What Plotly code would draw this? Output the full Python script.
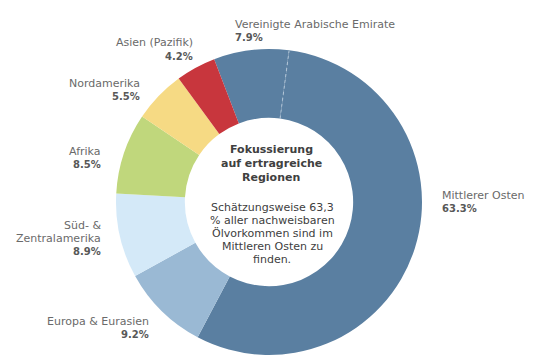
import math
import plotly.graph_objects as go

# ---- data ----
regions = ["Mittlerer Osten", "Europa & Eurasien", "Süd- &<br>Zentralamerika",
           "Afrika", "Nordamerika", "Asien (Pazifik)"]
shares = [63.3, 9.2, 8.9, 8.5, 5.5, 4.2]
sub_label = "Vereinigte Arabische Emirate"
sub_share = 7.9   # part of Mittlerer Osten
colors = ["#5a7fa1", "#9ab9d4", "#d4e9f8", "#c0d77c", "#f6da84", "#c8363d"]

center_title = ["Fokussierung", "auf ertragreiche", "Regionen"]
center_body = ["Schätzungsweise 63,3", "% aller nachweisbaren",
               "Ölvorkommen sind im", "Mittleren Osten zu", "finden."]

# ---- build slices ----
slice_labels = [sub_label, regions[0] + " (übrige)"] + regions[1:]
slice_values = [sub_share, shares[0] - sub_share] + shares[1:]
slice_colors = [colors[0], colors[0]] + colors[1:]

W, H = 534, 361
CX, CY, R = 261, 194, 153
HOLE = 0.55
ROT = -21

fig = go.Figure()
fig.add_trace(go.Pie(
    labels=slice_labels, values=slice_values, sort=False,
    direction="clockwise", rotation=ROT, hole=HOLE,
    textinfo="none", showlegend=False,
    marker=dict(colors=slice_colors, line=dict(color="#ffffff", width=0)),
    domain=dict(x=[(CX - R) / W, (CX + R) / W],
                y=[(H - CY - R) / H, (H - CY + R) / H]),
))

# dotted separator between VAE and the rest of Mittlerer Osten
th = math.radians(ROT + sub_share / sum(slice_values) * 360)
def pt(rr):
    px = CX + rr * math.sin(th)
    py = CY - rr * math.cos(th)
    return px / W, 1 - py / H
x0, y0 = pt(HOLE * R)
x1, y1 = pt(R - 0.5)
fig.add_shape(type="line", xref="paper", yref="paper", x0=x0, y0=y0, x1=x1, y1=y1,
              line=dict(color="#b3c6d8", width=1, dash="dot"), layer="above")

FONT = "DejaVu Sans"
LBL = "#6a6a6a"
PCT = "#585858"
LH = 13

def put(text, px, py, xa, size, color, bold=False):
    fig.add_annotation(x=px / W, y=1 - py / H, xref="paper", yref="paper",
                       text=("<b>%s</b>" % text) if bold else text, showarrow=False,
                       xanchor=xa, yanchor="middle", align=xa,
                       font=dict(family=FONT, size=size, color=color))

def label(name, val, px, py_first, xa):
    lines = name.split("<br>")
    for i, ln in enumerate(lines):
        put(ln, px, py_first + i * LH, xa, 11, LBL)
    put(f"{val:.1f}%", px, py_first + len(lines) * LH, xa, 10, PCT, bold=True)

# (x, y of first line center, anchor)
places = [
    (432, 187, "left"),    # Mittlerer Osten
    (143, 313, "right"),   # Europa
    (95, 217, "right"),    # Süd
    (95, 143.5, "right"),  # Afrika
    (134, 75, "right"),    # Nordamerika
    (187, 35, "right"),    # Asien
]
for name, val, (px, py, xa) in zip(regions, shares, places):
    label(name, val, px, py, xa)
label(sub_label, sub_share, 225, 17, "left")

for i, ln in enumerate(center_title):
    put(ln, 263, 141 + i * 14.5, "center", 11, "#404040", bold=True)
for i, ln in enumerate(center_body):
    put(ln, 264, 199.5 + i * 13.1, "center", 11, "#404040")

fig.update_layout(width=W, height=H, margin=dict(l=0, r=0, t=0, b=0),
                  paper_bgcolor="#ffffff", plot_bgcolor="#ffffff",
                  showlegend=False)
fig.write_html("out.html")
